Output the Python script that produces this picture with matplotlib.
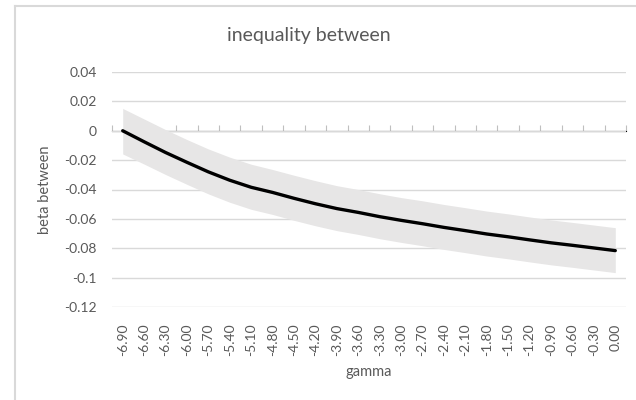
import matplotlib
matplotlib.use("Agg")
import matplotlib.pyplot as plt
from matplotlib.lines import Line2D

# data
gamma = ["-6.90", "-6.60", "-6.30", "-6.00", "-5.70", "-5.40", "-5.10", "-4.80",
         "-4.50", "-4.20", "-3.90", "-3.60", "-3.30", "-3.00", "-2.70", "-2.40",
         "-2.10", "-1.80", "-1.50", "-1.20", "-0.90", "-0.60", "-0.30", "0.00"]
beta = [0.000, -0.0075, -0.0148, -0.0215, -0.0280, -0.0337, -0.0385, -0.0420,
        -0.0460, -0.0497, -0.0530, -0.0556, -0.0585, -0.0610, -0.0633, -0.0658,
        -0.0680, -0.0703, -0.0722, -0.0743, -0.0763, -0.0780, -0.0798, -0.0816]
upper = [0.0152, 0.0080, 0.0008, -0.0060, -0.0124, -0.0180, -0.0228, -0.0264,
         -0.0303, -0.0340, -0.0374, -0.0400, -0.0429, -0.0455, -0.0477, -0.0502,
         -0.0524, -0.0547, -0.0566, -0.0587, -0.0607, -0.0624, -0.0642, -0.0660]
lower = [-0.0158, -0.0227, -0.0298, -0.0365, -0.0430, -0.0487, -0.0535, -0.0570,
         -0.0610, -0.0647, -0.0680, -0.0706, -0.0735, -0.0760, -0.0783, -0.0808,
         -0.0830, -0.0853, -0.0872, -0.0893, -0.0913, -0.0930, -0.0948, -0.0966]
yticks = [0.04, 0.02, 0, -0.02, -0.04, -0.06, -0.08, -0.1, -0.12]
ytick_labels = ["0.04", "0.02", "0", "-0.02", "-0.04", "-0.06", "-0.08", "-0.1", "-0.12"]

plt.rcParams["font.family"] = ["Lato", "DejaVu Sans"]
TXT = "#595959"
GRID = "#d9d9d9"

fig = plt.figure(figsize=(6.36, 4.0), dpi=100)
ax = fig.add_axes([112 / 636, 1 - 307 / 400, 514 / 636, 235 / 400])

x = list(range(len(gamma)))
ax.fill_between(x, lower, upper, color="#e7e6e6", lw=0, zorder=1)
ax.plot(x, beta, color="black", lw=2.4, solid_capstyle="round", zorder=3)

ax.set_xlim(-0.5, len(gamma) - 0.5)
ax.set_ylim(-0.12, 0.04)
ax.set_yticks(yticks)
ax.set_yticklabels(ytick_labels)
ax.set_xticks(x)
ax.set_xticklabels(gamma, rotation=90)
ax.tick_params(axis="both", length=0, labelsize=10, colors=TXT)
ax.tick_params(axis="x", pad=12)
ax.tick_params(axis="y", pad=11)
ax.grid(axis="y", color=GRID, lw=1)
ax.set_axisbelow(True)
for s in ax.spines.values():
    s.set_visible(False)

# horizontal category axis crossing at zero with outward ticks
sec = ax.secondary_xaxis(0.75)
sec.set_xticks([i - 0.5 for i in range(len(gamma) + 1)])
sec.set_xticklabels([])
sec.tick_params(direction="out", length=4, color="#bfbfbf", width=0.8)
sec.spines["bottom"].set_color("#bfbfbf")
sec.spines["bottom"].set_linewidth(1)

ax.set_xlabel("gamma", fontsize=10.5, color=TXT, labelpad=6)
ax.set_ylabel("beta between", fontsize=10.5, color=TXT, labelpad=9)
fig.text(0.485, 1 - 35 / 400, "inequality between", ha="center", va="center",
         fontsize=14, color=TXT)

# chart-area border (only top and left edges visible in the crop)
fig.add_artist(Line2D([15 / 636, 1], [1 - 6 / 400, 1 - 6 / 400], color=GRID, lw=1.5,
                      transform=fig.transFigure))
fig.add_artist(Line2D([15 / 636, 15 / 636], [0, 1 - 6 / 400], color=GRID, lw=1.5,
                      transform=fig.transFigure))

fig.savefig("out.png", dpi=100)
